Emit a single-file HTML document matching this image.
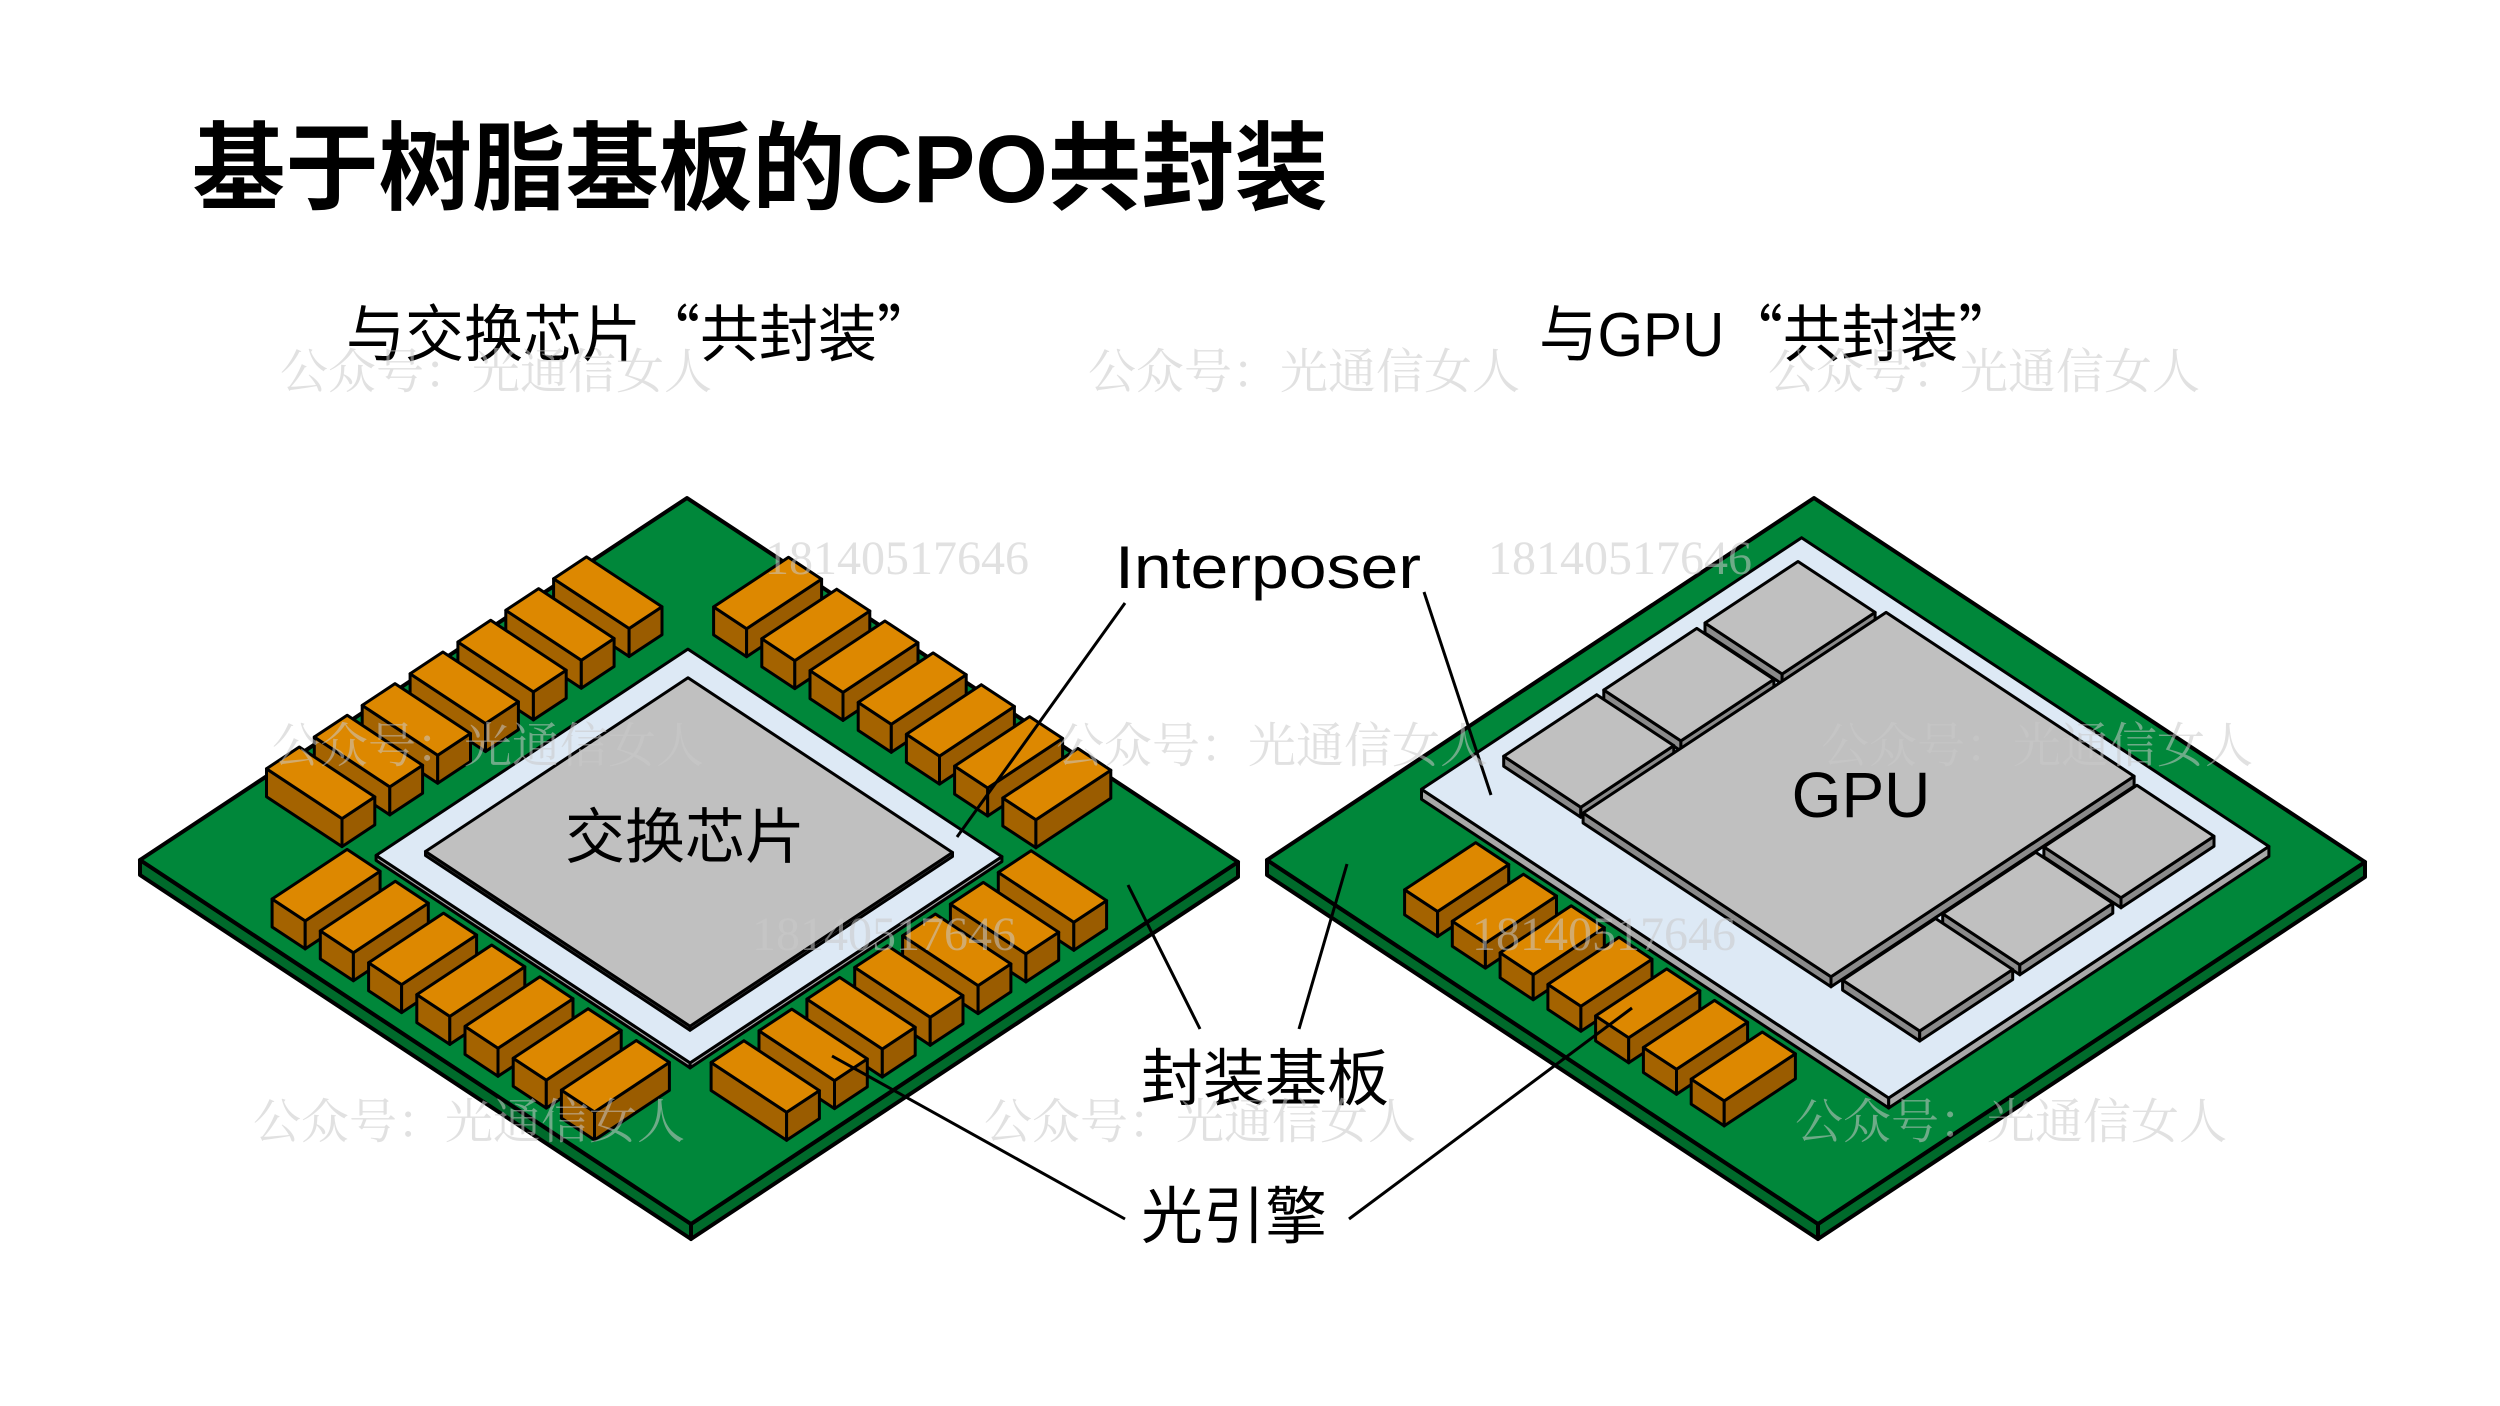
<!DOCTYPE html>
<html><head><meta charset="utf-8">
<style>
html,body{margin:0;padding:0;background:#fff;}
svg{display:block;}
.cjk{font-family:"Liberation Sans","Noto Sans CJK SC",sans-serif;}
.q{font-family:"Noto Sans CJK SC",sans-serif;}
.wm{font-family:"Liberation Serif","Noto Serif CJK SC",serif;fill:#c8c8c8;fill-opacity:0.55;font-size:48px;}
</style></head>
<body>
<svg id="s" width="2500" height="1406" viewBox="0 0 2500 1406" xmlns="http://www.w3.org/2000/svg">
<g id="shapes"></g>
<g class="cjk" fill="#000">
<text x="192" y="202" font-size="96" font-weight="bold" textLength="1136" lengthAdjust="spacingAndGlyphs">基于树脂基板的CPO共封装</text>
<text x="346" y="356" font-size="62" textLength="590" lengthAdjust="spacingAndGlyphs">与交换芯片<tspan class="q">“</tspan>共封装<tspan class="q">”</tspan></text>
<text x="1539" y="356" font-size="62" textLength="478" lengthAdjust="spacingAndGlyphs">与GPU<tspan class="q">“</tspan>共封装<tspan class="q">”</tspan></text>
<text x="1115" y="588" font-size="60" textLength="306" lengthAdjust="spacingAndGlyphs">Interposer</text>
<text x="685" y="858" font-size="60" text-anchor="middle">交换芯片</text>
<text x="1861" y="817" font-size="64" text-anchor="middle">GPU</text>
<text x="1141" y="1100" font-size="62">封装基板</text>
<text x="1141" y="1238" font-size="62">光引擎</text>
</g>
<g stroke="#000" stroke-width="3" fill="none">
<line x1="1125" y1="603" x2="957" y2="837"/>
<line x1="1424" y1="592" x2="1491" y2="795"/>
<line x1="1200" y1="1029" x2="1128" y2="885"/>
<line x1="1299" y1="1029" x2="1347" y2="864"/>
<line x1="1125" y1="1219" x2="832" y2="1056"/>
<line x1="1349" y1="1219" x2="1632" y2="1008"/>
</g>
<g class="wm">
<text x="280" y="388">公众号：光通信女人</text>
<text x="1088" y="388">公众号：光通信女人</text>
<text x="1768" y="388">公众号：光通信女人</text>
<text x="272" y="762">公众号：光通信女人</text>
<text x="1056" y="762">公众号：光通信女人</text>
<text x="1821" y="762">公众号：光通信女人</text>
<text x="253" y="1138">公众号：光通信女人</text>
<text x="984" y="1138">公众号：光通信女人</text>
<text x="1795" y="1138">公众号：光通信女人</text>
<text x="765" y="574">18140517646</text>
<text x="1488" y="574">18140517646</text>
<text x="752" y="950">18140517646</text>
<text x="1472" y="950">18140517646</text>
</g>
</svg>
<script>
(function(){
var NS="http://www.w3.org/2000/svg";
var g=document.getElementById("shapes");
var U=[5.51,3.64],V=[-5.47,3.62];
function P(o,a,b,h){return [o[0]+a*U[0]+b*V[0], o[1]+a*U[1]+b*V[1]-h];}
function poly(pts,fill,sw){
 var p=document.createElementNS(NS,"polygon");
 p.setAttribute("points",pts.map(function(q){return q[0].toFixed(1)+","+q[1].toFixed(1)}).join(" "));
 p.setAttribute("fill",fill);p.setAttribute("stroke","#000");
 p.setAttribute("stroke-width",sw||3);p.setAttribute("stroke-linejoin","round");
 g.appendChild(p);
}
function box(o,a0,a1,b0,b1,z0,z1,top,sl,sr,sw){
 poly([P(o,a0,b1,z0),P(o,a1,b1,z0),P(o,a1,b1,z1),P(o,a0,b1,z1)],sl,sw);
 poly([P(o,a1,b0,z0),P(o,a1,b1,z0),P(o,a1,b1,z1),P(o,a1,b0,z1)],sr,sw);
 poly([P(o,a0,b0,z1),P(o,a1,b0,z1),P(o,a1,b1,z1),P(o,a0,b1,z1)],top,sw);
}
var GT="#00873a",GS="#006a2b",OT="#dd8800",OS="#a46300",OS2="#9a5c00";
var IT="#dde9f5",IS="#a8a8a8",CT="#c0c0c0",CS="#8a8a8a";
var L=[687,498];
box(L,0,100,0,100,-15,0,GT,GS,GS,4);
box(L,21.5,78.5,21.5,78.5,0,5,IT,IS,IS,3);
box(L,26,74,26,74,5,9,CT,"#6f6f6f","#6f6f6f",3);
var bx=[];
for(var k=0;k<7;k++){
 var s=21.2+8.75*k;
 bx.push([2.8,16.5,s,s+6]);
 bx.push([s,s+6,2.8,16.5]);
 bx.push([s,s+6,83.5,97.2]);
 bx.push([83.5,97.2,s,s+6]);
}
bx.sort(function(x,y){return (x[0]+x[2])-(y[0]+y[2]);});
bx.forEach(function(q){box(L,q[0],q[1],q[2],q[3],0,28,OT,OS,OS2,3);});
var R=[1814,498];
box(R,0,100,0,100,-15,0,GT,GS,GS,4);
box(R,5.7,90.5,8,77.5,0,10,IT,IS,IS,3);
var hb=[[13,30],[31.5,48.5],[49.8,66.8]];
hb.forEach(function(q){box(R,10,24,q[0],q[1],10,20,CT,CS,CS,3);});
box(R,25,70,12,67.4,10,20,CT,CS,CS,3);
hb.forEach(function(q){box(R,71.5,85.5,q[0],q[1],10,20,CT,CS,CS,3);});
for(var k=0;k<7;k++){
 var s=20+8.67*k;
 box(R,s,s+6,82,95,0,25,OT,OS,OS2,3);
}
})();
</script>
</body></html>
